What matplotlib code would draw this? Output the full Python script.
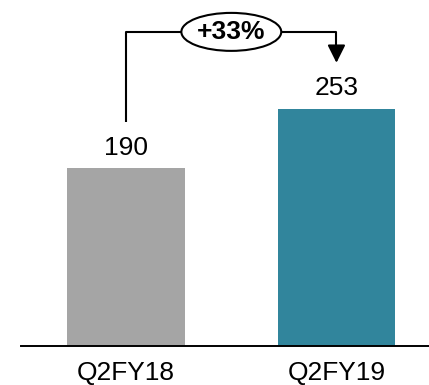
import matplotlib.pyplot as plt
from matplotlib.patches import Ellipse

# datos del gráfico
periodos = ["Q2FY18", "Q2FY19"]
valores = [190, 253]
colores = ["#A5A5A5", "#31859C"]

plt.rcParams['font.family'] = ['Liberation Sans', 'DejaVu Sans']

fig = plt.figure(figsize=(4.29, 3.85), dpi=100)
ax = fig.add_axes([21 / 429, 39 / 385, 408 / 429, 346 / 385])

x = list(range(len(valores)))
barras = ax.bar(x, valores, width=0.56, color=colores, zorder=2)

# etiquetas de valor sobre las barras
for xi, v in zip(x, valores):
    ax.annotate(f"{v}", (xi, v), xytext=(0, 6), textcoords="offset points",
                ha="center", va="bottom", fontsize=19)

ax.set_xlim(-0.5, 1.44)
ax.set_ylim(0, 369)
ax.set_xticks(x)
ax.set_xticklabels(periodos, fontsize=19)
ax.tick_params(axis="x", length=0, pad=10.5)
ax.set_yticks([])
for lado in ["top", "right", "left"]:
    ax.spines[lado].set_visible(False)
ax.spines["bottom"].set_linewidth(1.4)

# corchete de crecimiento
crec = (valores[1] / valores[0] - 1) * 100
y_top = max(valores) + 82
y0 = valores[0] + 49
y1 = valores[1] + 49
ax.plot([x[0], x[0], x[1], x[1]], [y0, y_top, y_top, y1 + 14],
        color="black", lw=1.5, solid_capstyle="butt", clip_on=False, zorder=3)
ax.annotate("", xy=(x[1], y1), xytext=(x[1], y1 + 17),
            arrowprops=dict(arrowstyle="-|>", color="black", lw=1.5,
                            mutation_scale=27, shrinkA=0, shrinkB=0),
            zorder=3)
xm = (x[0] + x[1]) / 2
ax.add_patch(Ellipse((xm, y_top), width=0.475, height=40.5, facecolor="white",
                     edgecolor="black", lw=1.5, zorder=4, clip_on=False))
ax.text(xm, y_top, f"+{crec:.0f}%", ha="center", va="center",
        fontsize=19, fontweight="bold", zorder=5)

fig.savefig("out.png", dpi=100)
